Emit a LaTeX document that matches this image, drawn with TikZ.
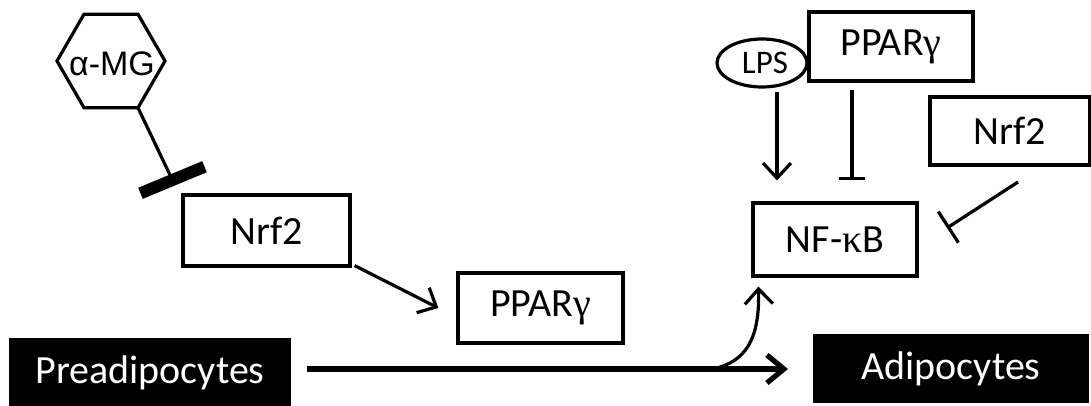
\documentclass[tikz,border=0pt]{standalone}
\usepackage{fontspec}
\setmainfont{Carlito}
\newfontfamily\arialfont{Liberation Sans}
\newfontfamily\greekfont{Liberation Serif}
\newcommand{\gr}[1]{{\greekfont #1}}
\usetikzlibrary{shapes.geometric,arrows.meta,calc}
\begin{document}
\begin{tikzpicture}[x=1pt,y=-1pt,
  lw/.style={line width=3.2pt},
  box/.style={draw,lw,inner sep=0pt,font=\fontsize{40}{40}\selectfont},
  cellbox/.style={fill=black,text=white,inner sep=0pt,font=\fontsize{40}{40}\selectfont},
  hexa/.style={draw,lw,regular polygon,regular polygon sides=6,minimum size=108pt,inner sep=0pt},
  oval/.style={draw,lw,ellipse,minimum width=90pt,minimum height=48pt,inner sep=0pt},
  act/.style={lw,-{Straight Barb[length=15pt,width=28pt,line width=3.2pt]}},
  inh/.style={lw,-{Bar[width=#1,line width=3.2pt]}},
  thickbar/.style={line width=12pt},
  main/.style={line width=5.2pt,-{Straight Barb[length=17pt,width=28pt,line width=5.2pt]}}
]
\useasboundingbox (0,0) rectangle (1091,406);

% left branch: alpha-MG blocks Nrf2, Nrf2 induces PPARgamma
\node[hexa] (mg) at (111,61) {};
\node[font=\arialfont\fontsize{34}{34}\selectfont,inner sep=0pt] (mgtext) at (112,64) {α-MG};
\node[box,minimum width=167pt,minimum height=71pt] (nrfL) at (266.5,230.5) {Nrf2};
\node[box,minimum width=165pt,minimum height=70pt] (pparL) at (540.5,308) {PPAR\gr{γ}};

% right branch: regulators of NF-kB
\node[oval] (lps) at (762,63) {};
\node[font=\fontsize{33}{33}\selectfont,inner sep=0pt] (lpstext) at (765,63) {LPS};
\node[box,minimum width=164pt,minimum height=69pt] (pparR) at (891,46.5) {PPAR\gr{γ}};
\node[box,minimum width=160pt,minimum height=68pt] (nrfR) at (1010,131) {Nrf2};
\node[box,minimum width=164pt,minimum height=73pt] (nfkb) at (835,239.5) {NF-\gr{κ}B};

% cell stages
\node[cellbox,minimum width=282pt,minimum height=70pt] (pre) at (150,373) {Preadipocytes};
\node[cellbox,minimum width=276pt,minimum height=69pt] (adi) at (951,368.5) {Adipocytes};

% alpha-MG inhibition with a heavy bar
\coordinate (mgcorner) at ($(mg.center)+(-60:54pt)$);
\coordinate (mgend) at (170,175);
\coordinate (mgbar) at (172.5,180);
\draw[lw] (mgcorner) -- (mgend);
\draw[thickbar] ($(mgbar)+(-32,13.3)$) -- ($(mgbar)+(32,-13.3)$);

% Nrf2 -> PPARgamma
\draw[act] ([shift={(3,-2)}]nrfL.south east) -- ([xshift=-18pt]pparL.west);

% inputs to NF-kB
\coordinate (lpsx) at (777,0);
\coordinate (pparx) at (852,0);
\draw[act] ([yshift=-3pt]lps.south -| lpsx) -- ([yshift=21pt]nfkb.north -| lpsx);
\draw[inh=26pt] ([yshift=-7pt]pparR.south -| pparx) -- ([yshift=21pt]nfkb.north -| pparx);
\coordinate (nrfRtail) at (1018,182);
\coordinate (nrfRhead) at (947,228);
\draw[inh=37pt] (nrfRtail) -- (nrfRhead);

% differentiation and NF-kB activation
\coordinate (mainstart) at (307,369);
\coordinate (mainend) at (788,369);
\coordinate (branch) at (713,369);
\draw[main] (mainstart) -- (mainend);
\draw[act] (branch) .. controls (745,362) and (760,340) .. ([xshift=7pt,yshift=-9pt]nfkb.south west);
\end{tikzpicture}
\end{document}
